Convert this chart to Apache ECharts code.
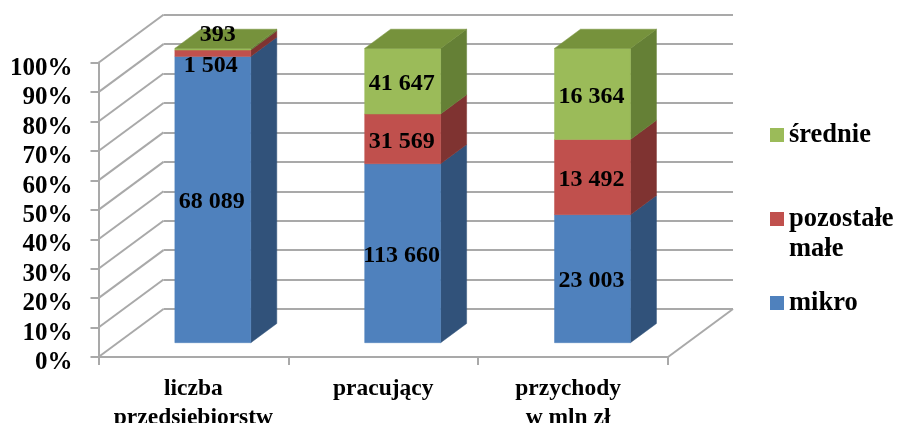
<!DOCTYPE html>
<html><head><meta charset="utf-8">
<style>html,body{margin:0;padding:0;background:#fff}#c{width:898px;height:423px;filter:blur(0.45px)}</style>
<script src="https://cdn.jsdelivr.net/npm/echarts@6/dist/echarts.min.js"></script>
</head><body><div id="c"></div>
<script>
const categories = ['liczba\nprzedsiębiorstw', 'pracujący', 'przychody\nw mln zł'];
const mikro = [68089, 113660, 23003];
const pozostale = [1504, 31569, 13492];
const srednie = [393, 41647, 16364];
const yTicks = [0, 10, 20, 30, 40, 50, 60, 70, 80, 90, 100];

const FONT = '"Liberation Serif", serif';
const GREY = '#a9a9a9';
const DEPTH = {dx: 65, dy: -48};
const NEAR = {dx: 19.4, dy: -14.3};
const FAR = {dx: 45.4, dy: -33.5};
const BAR_RATIO = 0.4;

const totals = categories.map((_, i) => mikro[i] + pozostale[i] + srednie[i]);
const fmt = n => String(n).replace(/\B(?=(\d{3})+$)/g, ' ');

const stacks = [
  {name: 'mikro', values: mikro, front: '#4f81bd', side: '#31527a', top: '#3f6797', shift: {}},
  {name: 'pozostałe małe', values: pozostale, front: '#c0504d', side: '#7f3331', top: '#93403d', shift: {0: [-1, 10]}},
  {name: 'średnie', values: srednie, front: '#9bbb59', side: '#658036', top: '#76923c', shift: {0: [6, -17]}, isTop: true}
];

function stackData(idx) {
  return categories.map((_, i) => {
    let lo = 0;
    for (let k = 0; k < idx; k++) lo += stacks[k].values[i];
    const hi = lo + stacks[idx].values[i];
    return [i, lo / totals[i] * 100, hi / totals[i] * 100, stacks[idx].values[i]];
  });
}

function poly(points, fill) {
  return {type: 'polygon', shape: {points}, style: {fill, stroke: fill, lineWidth: 0.5}};
}

function barRenderer(idx) {
  const s = stacks[idx];
  return function (params, api) {
    const cat = api.value(0);
    const lo = api.coord([cat, api.value(1)]);
    const hi = api.coord([cat, api.value(2)]);
    const w = api.size([1, 0])[0] * BAR_RATIO;
    const L = lo[0] - w / 2 + NEAR.dx, R = L + w;
    const yb = lo[1] + NEAR.dy, yt = hi[1] + NEAR.dy;
    const ox = FAR.dx - NEAR.dx, oy = FAR.dy - NEAR.dy;
    const children = [
      poly([[R, yb], [R + ox, yb + oy], [R + ox, yt + oy], [R, yt]], s.side),
      poly([[L, yt], [R, yt], [R, yb], [L, yb]], s.front)
    ];
    if (s.isTop) {
      children.push(poly([[L, yt], [L + ox, yt + oy], [R + ox, yt + oy], [R, yt]], s.top));
    }
    const sh = s.shift[cat] || [0, 0];
    children.push({
      type: 'text', z2: 10,
      style: {
        x: (L + R) / 2 - 1 + sh[0], y: (yb + yt) / 2 + 2.5 + sh[1],
        text: fmt(api.value(3)), align: 'center', verticalAlign: 'middle',
        font: 'bold 24px ' + FONT, fill: '#000'
      }
    });
    return {type: 'group', children};
  };
}

const wallSeries = {
  type: 'custom', name: 'wall', silent: true, z: 1, clip: false,
  xAxisIndex: 0, yAxisIndex: 0,
  data: yTicks.map(v => [0, v]),
  encode: {x: 0, y: 1},
  renderItem(params, api) {
    const p = api.coord([0, api.value(1)]);
    const x = p[0] - api.size([1, 0])[0] / 2;
    return {type: 'line', shape: {x1: x, y1: p[1], x2: x + DEPTH.dx, y2: p[1] + DEPTH.dy},
      style: {stroke: GREY, lineWidth: 2}};
  }
};
const floorSeries = {
  type: 'custom', name: 'floor', silent: true, z: 1, clip: false,
  xAxisIndex: 0, yAxisIndex: 0,
  data: [[categories.length - 1, 0]],
  encode: {x: 0, y: 1},
  renderItem(params, api) {
    const p = api.coord([api.value(0), 0]);
    const x = p[0] + api.size([1, 0])[0] / 2;
    return {type: 'line', shape: {x1: x, y1: p[1], x2: x + DEPTH.dx, y2: p[1] + DEPTH.dy},
      style: {stroke: GREY, lineWidth: 2}};
  }
};

const labelFont = {fontFamily: FONT, fontWeight: 'bold', color: '#000'};

const option = {
  animation: false,
  backgroundColor: '#fff',
  grid: [
    {left: 98.5, top: 62.7, width: 569.5, height: 294.3, outerBoundsMode: 'none'},
    {left: 163.5, top: 14.7, width: 569.5, height: 294.3, outerBoundsMode: 'none'}
  ],
  xAxis: [
    {type: 'category', gridIndex: 0,
     data: categories.map((c, i) => i === 2 ? {value: c, textStyle: {padding: [0, 10, 0, 0]}} : c),
     axisLine: {lineStyle: {color: GREY, width: 2}},
     axisTick: {show: true, length: 8, alignWithLabel: false, lineStyle: {color: GREY, width: 2}},
     axisLabel: {...labelFont, fontSize: 23.5, lineHeight: 29, margin: 17, interval: 0}},
    {type: 'category', gridIndex: 1, data: categories, show: false}
  ],
  yAxis: [
    {type: 'value', gridIndex: 0, min: 0, max: 100, interval: 10,
     axisLine: {show: true, lineStyle: {color: GREY, width: 2}},
     axisTick: {show: true, length: 8, lineStyle: {color: GREY, width: 2}},
     splitLine: {show: false},
     axisLabel: {...labelFont, fontSize: 25, margin: 26, verticalAlign: 'top', lineHeight: 11.5, formatter: '{value}%'}},
    {type: 'value', gridIndex: 1, min: 0, max: 100, interval: 10,
     axisLine: {show: false}, axisTick: {show: false}, axisLabel: {show: false},
     splitLine: {show: true, lineStyle: {color: GREY, width: 2}}}
  ],
  legend: [
    {data: ['średnie'], left: 770, top: 113.5},
    {data: ['pozostałe małe'], left: 770, top: 167.5, formatter: () => '\npozostałe\nmałe'},
    {data: ['mikro'], left: 770, top: 281.5}
  ].map(l => ({
    ...l, orient: 'vertical', icon: 'rect', itemWidth: 14, itemHeight: 14, itemGap: 0, padding: 0,
    selectedMode: false,
    textStyle: {...labelFont, fontSize: 26.5, lineHeight: 30, padding: [13, 0, 0, 0]}
  })),
  series: [
    wallSeries, floorSeries,
    ...stacks.map((s, i) => ({
      type: 'custom', name: s.name, z: 2 + i, clip: false,
      xAxisIndex: 0, yAxisIndex: 0,
      itemStyle: {color: s.front},
      data: stackData(i),
      encode: {x: 0, y: [1, 2]},
      renderItem: barRenderer(i)
    }))
  ]
};
echarts.init(document.getElementById('c')).setOption(option);
</script></body></html>
